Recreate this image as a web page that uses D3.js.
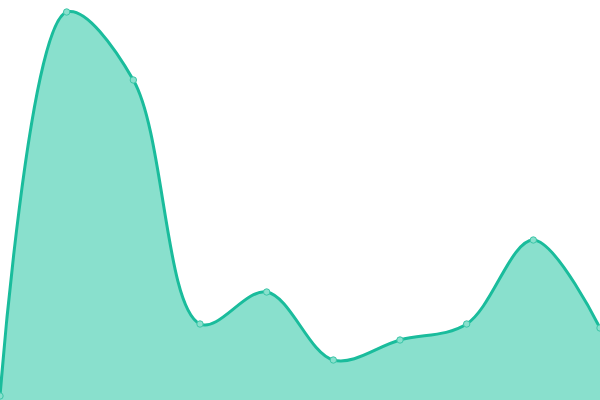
<!DOCTYPE html>
<html>
<head>
<meta charset="utf-8">
<script src="https://cdn.jsdelivr.net/npm/d3@7"></script>
<style>
  html, body { margin: 0; padding: 0; background: #fff; }
  svg { display: block; }
</style>
</head>
<body>
<div class="chart"></div>
<script>
// data
const labels = ["1", "2", "3", "4", "5", "6", "7", "8", "9", "10"];
const values = [1, 97, 80, 19, 27, 10, 15, 19, 40, 18];

const width = 600;
const height = 400;

const svg = d3.select(".chart")
    .append("svg")
    .attr("width", width)
    .attr("height", height);

const x = d3.scalePoint()
    .domain(labels)
    .range([0, width]);

const y = d3.scaleLinear()
    .domain([0, 100])
    .range([height, 0]);

const data = labels.map((l, i) => ({ label: l, value: values[i] }));

const curve = d3.curveCatmullRom.alpha(0.5);

const area = d3.area()
    .x(d => x(d.label))
    .y0(height)
    .y1(d => y(d.value))
    .curve(curve);

const line = d3.line()
    .x(d => x(d.label))
    .y(d => y(d.value))
    .curve(curve);

svg.append("path")
    .datum(data)
    .attr("d", area)
    .style("fill", "#89e0cd");

svg.append("path")
    .datum(data)
    .attr("d", line)
    .style("fill", "none")
    .style("stroke", "#1abc9c")
    .style("stroke-width", 3);

// point markers
svg.selectAll(".dot")
    .data(data)
    .join("circle")
    .attr("class", "dot")
    .attr("cx", d => x(d.label))
    .attr("cy", d => y(d.value))
    .attr("r", 3.2)
    .style("fill", "#89e0cd")
    .style("stroke", "#3cc6a8")
    .style("stroke-width", 1);
</script>
</body>
</html>
